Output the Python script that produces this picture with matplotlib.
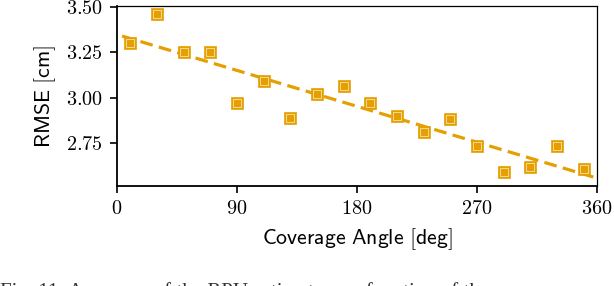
import numpy as np
import matplotlib
matplotlib.use("Agg")
import matplotlib.pyplot as plt

plt.rcParams['mathtext.fontset'] = 'cm'
plt.rcParams['font.family'] = 'serif'
plt.rcParams['font.serif'] = ['Liberation Serif', 'DejaVu Serif']

# coverage angle (deg) and RMSE (cm)
angle = [10, 30, 50, 70, 90, 110, 130, 150, 170, 190,
         210, 230, 250, 270, 290, 310, 330, 350]
rmse = [3.30, 3.46, 3.25, 3.25, 2.97, 3.09, 2.89, 3.02, 3.065, 2.97,
        2.90, 2.81, 2.88, 2.733, 2.59, 2.62, 2.733, 2.606]
xticks = [0, 90, 180, 270, 360]
yticks = [2.75, 3.00, 3.25, 3.50]

orange = '#E69F00'

fig = plt.figure(figsize=(6.14, 2.86), dpi=100)
ax = fig.add_axes([0.1906, 0.3497, 0.7817, 0.6293])

# linear fit
k, b = np.polyfit(angle, rmse, 1)
xs = np.array([-10, 370])
ax.plot(xs, k * xs + b, ls=(0, (4, 2)), color=orange, lw=2.3, zorder=2)

ax.plot(angle, rmse, 's', color=orange, ms=9, mec=orange, mew=0.5, zorder=3)
ax.plot(angle, rmse, 's', mfc='none', mec='white', ms=5.6, mew=0.6,
        alpha=0.7, zorder=4)

ax.set_xlim(0, 360)
ax.set_ylim(2.513, 3.505)
ax.set_xticks(xticks)
ax.set_yticks(yticks)
ax.set_xticklabels(['$%d$' % t for t in xticks])
ax.set_yticklabels(['$%.2f$' % t for t in yticks])
ax.tick_params(labelsize=14.5, length=5, width=1.2, pad=5)

for s in ['left', 'bottom']:
    ax.spines[s].set_linewidth(1.3)
for s in ['top', 'right']:
    ax.spines[s].set_linewidth(0.9)

ax.set_xlabel(r'$\mathsf{Coverage\ Angle\ [deg]}$', fontsize=15.7, labelpad=5)
ax.set_ylabel(r'$\mathsf{RMSE\ [cm]}$', fontsize=15.7, labelpad=6)

# caption of the paper figure, cut off by the image edge as in the source
fig.text(0.0, 0.014, 'Fig. 11: Accuracy of the RPU estimate as a function of the',
         fontsize=15, va='top', ha='left', color='#333333')

fig.savefig('out.png', dpi=100)
